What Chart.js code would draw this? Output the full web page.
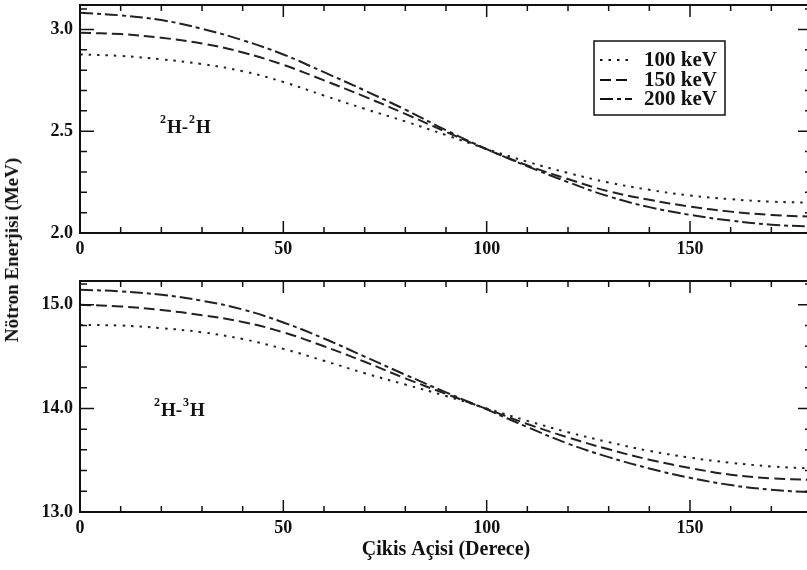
<!DOCTYPE html>
<html>
<head>
<meta charset="utf-8">
<script src="https://cdn.jsdelivr.net/npm/chart.js@4.4.0/dist/chart.umd.min.js"></script>
<style>
  html, body { margin: 0; padding: 0; background: #fff; overflow: hidden; }
  #wrap { position: relative; width: 807px; height: 570px; overflow: hidden; }
  .panel { position: absolute; left: 0; width: 830px; }
  #topPanel { top: 0; height: 268px; }
  #bottomPanel { top: 268px; height: 302px; }
  #ytitle {
    position: absolute; left: 12px; top: 250px;
    transform: translate(-50%, -50%) rotate(-90deg);
    white-space: nowrap; font: bold 19px "Liberation Serif", serif; color: #111;
  }
</style>
</head>
<body>
<div id="wrap">
  <div class="panel" id="topPanel"><canvas id="ddChart"></canvas></div>
  <div class="panel" id="bottomPanel"><canvas id="dtChart"></canvas></div>
  <div id="ytitle">Nötron Enerjisi (MeV)</div>
</div>
<script>
// --- data ---
const angles = [0, 10, 20, 30, 40, 50, 60, 70, 80, 90, 100, 110, 120, 130, 140, 150, 160, 170, 180];
const seriesLabels = ['100 keV', '150 keV', '200 keV'];

// 2H-2H panel
const dd100 = [2.877, 2.870, 2.853, 2.830, 2.795, 2.742, 2.675, 2.610, 2.548, 2.481, 2.413, 2.350, 2.295, 2.248, 2.212, 2.184, 2.166, 2.154, 2.149];
const dd150 = [2.984, 2.977, 2.959, 2.931, 2.887, 2.826, 2.750, 2.670, 2.585, 2.497, 2.411, 2.332, 2.265, 2.205, 2.163, 2.130, 2.105, 2.089, 2.080];
const dd200 = [3.082, 3.069, 3.046, 3.003, 2.947, 2.877, 2.790, 2.700, 2.606, 2.505, 2.412, 2.328, 2.250, 2.180, 2.127, 2.089, 2.061, 2.041, 2.031];

// 2H-3H panel
const dt100 = [14.806, 14.800, 14.775, 14.735, 14.670, 14.575, 14.460, 14.340, 14.230, 14.120, 14.000, 13.880, 13.770, 13.675, 13.590, 13.525, 13.475, 13.440, 13.420];
const dt150 = [15.000, 14.985, 14.950, 14.900, 14.835, 14.735, 14.600, 14.450, 14.290, 14.140, 13.995, 13.850, 13.720, 13.605, 13.505, 13.425, 13.360, 13.325, 13.310];
const dt200 = [15.145, 15.130, 15.097, 15.040, 14.955, 14.830, 14.675, 14.500, 14.325, 14.155, 13.990, 13.820, 13.660, 13.530, 13.420, 13.330, 13.260, 13.215, 13.190];

const xTicks = [0, 50, 100, 150];
const ddYTicks = [2.0, 2.5, 3.0];
const dtYTicks = [13.0, 14.0, 15.0];

const ink = '#111';
const serif = '"Liberation Serif", "DejaVu Serif", serif';
const dashes = [[2.5, 6], [11, 5], [13, 4, 4, 4]];

// frame with inward ticks on all sides, legend box and reaction label
const frameTicks = {
  id: 'frameTicks',
  afterDatasetsDraw(chart, args, opts) {
    const { ctx, chartArea: a, scales: { x, y } } = chart;
    ctx.save();
    ctx.strokeStyle = ink;
    ctx.lineWidth = 2;
    ctx.strokeRect(a.left, a.top, a.right - a.left, a.bottom - a.top);

    ctx.lineWidth = 1.5;
    ctx.beginPath();
    for (let v = x.min; v <= x.max; v += 10) {
      const px = x.getPixelForValue(v);
      const len = v % 50 === 0 ? 12 : 6;
      ctx.moveTo(px, a.bottom); ctx.lineTo(px, a.bottom - len);
      ctx.moveTo(px, a.top); ctx.lineTo(px, a.top + len);
    }
    const n = Math.floor((y.max - y.min) / opts.minor + 1e-6);
    for (let i = 0; i <= n; i++) {
      const v = y.min + i * opts.minor;
      const py = y.getPixelForValue(v);
      const r = v / opts.major;
      const len = Math.abs(r - Math.round(r)) < 1e-6 ? 14 : 7;
      ctx.moveTo(a.left, py); ctx.lineTo(a.left + len, py);
      ctx.moveTo(a.right, py); ctx.lineTo(a.right - len, py);
    }
    ctx.stroke();

    // reaction label, e.g. 2H-2H with superscripts
    let tx = opts.label.x;
    const base = opts.label.y;
    ctx.fillStyle = ink;
    ctx.textBaseline = 'alphabetic';
    opts.label.parts.forEach(function(p) {
      ctx.font = (p.sup ? 'bold 12px ' : 'bold 19px ') + serif;
      ctx.fillText(p.t, tx, p.sup ? base - 10 : base);
      tx += ctx.measureText(p.t).width + 1;
    });

    if (opts.legend) {
      const L = opts.legend;
      ctx.lineWidth = 1.5;
      ctx.setLineDash([]);
      ctx.strokeRect(L.x, L.y, L.w, L.h);
      ctx.font = 'bold 21px ' + serif;
      ctx.textBaseline = 'middle';
      chart.data.datasets.forEach(function(ds, i) {
        const ry = L.rows[i];
        ctx.setLineDash(ds.borderDash);
        ctx.lineWidth = 2;
        ctx.beginPath();
        ctx.moveTo(L.x + 6, ry); ctx.lineTo(L.x + 38, ry);
        ctx.stroke();
        ctx.fillText(ds.label, L.x + 50, ry + 1);
      });
    }
    ctx.restore();
  }
};

function makeDatasets(vals) {
  return vals.map(function(v, i) {
    return {
      label: seriesLabels[i],
      data: angles.map(function(a, k) { return { x: a, y: v[k] }; }),
      borderColor: '#222',
      borderWidth: 2,
      borderDash: dashes[i],
      pointRadius: 0,
      tension: 0.4,
      fill: false
    };
  });
}

function makePanel(id, vals, yMin, yMax, yTicks, cfg) {
  return new Chart(document.getElementById(id), {
    type: 'line',
    data: { datasets: makeDatasets(vals) },
    options: {
      responsive: true,
      maintainAspectRatio: false,
      animation: false,
      layout: { padding: { top: cfg.padTop, right: 18, left: 0, bottom: 0 } },
      plugins: {
        legend: { display: false },
        tooltip: { enabled: false },
        frameTicks: cfg.frame
      },
      scales: {
        x: {
          type: 'linear', min: 0, max: 180,
          grid: { display: false, drawTicks: false }, border: { display: false },
          afterBuildTicks: function(s) { s.ticks = xTicks.map(function(v) { return { value: v }; }); },
          afterFit: function(s) { s.height = cfg.xHeight; s.paddingLeft = 0; s.paddingRight = 0; },
          ticks: { color: ink, padding: 6, maxRotation: 0, autoSkip: false, font: { family: serif, size: 18, weight: 'bold' } },
          title: cfg.xTitle
        },
        y: {
          min: yMin, max: yMax,
          grid: { display: false, drawTicks: false }, border: { display: false },
          afterBuildTicks: function(s) { s.ticks = yTicks.map(function(v) { return { value: v }; }); },
          afterFit: function(s) { s.width = 80; s.paddingTop = 0; s.paddingBottom = 0; },
          ticks: {
            color: ink, padding: 7, font: { family: serif, size: 18, weight: 'bold' },
            callback: function(v) { return Number(v).toFixed(1); }
          }
        }
      }
    },
    plugins: [frameTicks]
  });
}

makePanel('ddChart', [dd100, dd150, dd200], 2.0, 3.12, ddYTicks, {
  padTop: 5, xHeight: 35,
  xTitle: { display: false },
  frame: {
    major: 0.5, minor: 0.1,
    label: { x: 160, y: 133, parts: [{ t: '2', sup: true }, { t: 'H-', sup: false }, { t: '2', sup: true }, { t: 'H', sup: false }] },
    legend: { x: 594, y: 41, w: 131, h: 74, rows: [60, 80, 99] }
  }
});

makePanel('dtChart', [dt100, dt150, dt200], 13.0, 15.23, dtYTicks, {
  padTop: 13, xHeight: 58,
  xTitle: { display: true, text: 'Çikis Açisi (Derece)', color: ink, padding: { top: 0, bottom: 8 }, font: { family: serif, size: 20, weight: 'bold' } },
  frame: {
    major: 1.0, minor: 0.2,
    label: { x: 154, y: 148, parts: [{ t: '2', sup: true }, { t: 'H-', sup: false }, { t: '3', sup: true }, { t: 'H', sup: false }] },
    legend: null
  }
});
</script>
</body>
</html>
